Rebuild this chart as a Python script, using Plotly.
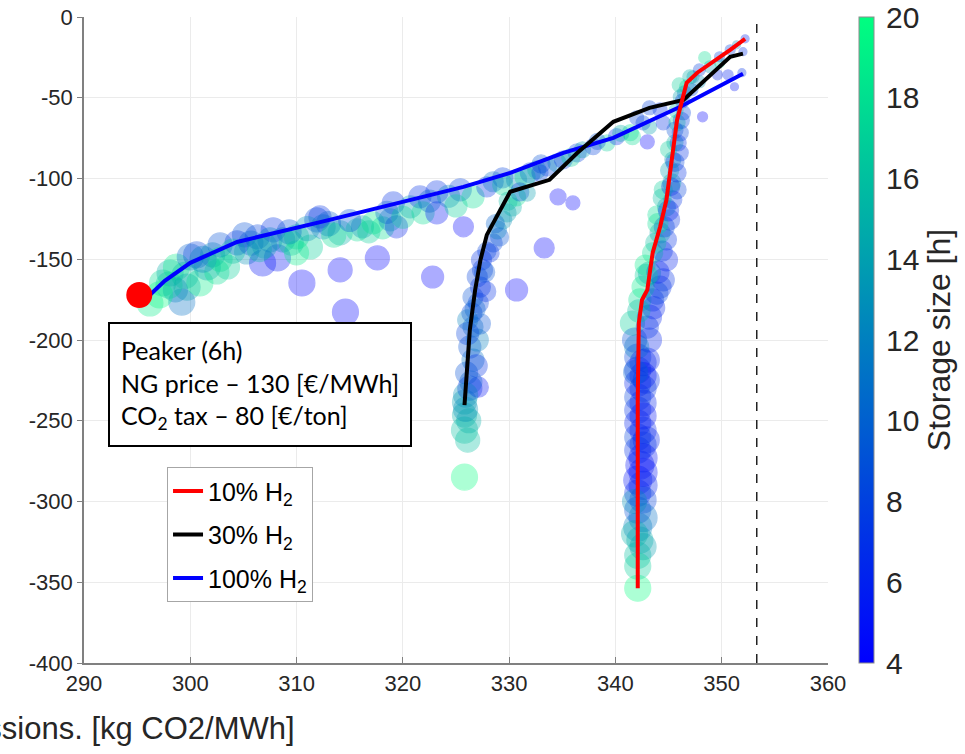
import plotly.graph_objects as go

# ---------------- data ----------------
# bubbles: 100% H2 family (band + outliers)
A_x = [296.2,297.4,298.1,298.7,299.2,299.7,300.0,300.6,300.9,301.6,
       302.1,302.5,303.5,304.4,305.3,306.3,306.8,307.8,308.2,308.7,
       310.0,310.5,311.3,311.9,312.5,307.0,305.1,302.8,298.6,297.1,
       310.0,312.2,
       314.1,315.7,316.2,317.2,318.1,319.1,319.4,318.8,320.7,321.6,
       321.9,323.2,323.2,325.4,326.6,327.9,329.4,329.4,330.7,332.0,
       332.6,333.6,334.5,335.1,336.4,336.9,337.9,339.2,340.1,341.4,
       342.6,343.2,344.2,342.0,341.6,344.5,343.2,
       314.6,314.1,317.6,322.8,325.7,330.7,333.3,334.6,336.0,343.0,348.2]
A_y = [-177.1,-164.7,-158.5,-154.8,-176.5,-167.2,-148.6,-147.3,-164.7,-154.8,
       -147.3,-157.9,-154.8,-139.9,-145.5,-136.2,-152.3,-131.8,-149.2,-138.0,
       -136.2,-164.7,-142.4,-125.6,-129.9,-141.8,-134.9,-141.1,-169.0,-172.1,
       -146.1,-123.8,
       -133.7,-131.8,-129.9,-127.5,-130.6,-115.1,-129.9,-125.6,-117.6,-111.4,
       -121.3,-108.3,-121.3,-107.0,-111.4,-105.2,-99.6,-103.9,-100.8,-96.5,
       -94.6,-92.8,-90.3,-88.4,-84.1,-82.2,-80.3,-77.9,-74.1,-71.6,
       -65.5,-68.0,-57.5,-62.4,-74.1,-65.5,-56.2,
       -182.7,-156.6,-149.2,-161.0,-129.9,-169.0,-143.0,-111.4,-115.1,-77.3,-61.8]
A_storage = [19,18,15,19,11,14,10,8,19,14, 13,18,17,7,13,8,5,7,5,12,
             18,4,17,8,12,14,9,9,12,20, 19,7,
             15,18,13,19,18,7,6,12,14,7, 18,7,5,8,18,7,8,18,13,8,
             14,8,13,7,8,14,8,17,7,18, 8,14,7,8,18,7,8,
             4,4,4,4,4,4,4,4,4,4,4]
A_cap = [26,26,26,26,26,26,26,26,26,26, 24,24,24,24,24,24,26,24,26,24,
         24,26,24,24,24,24,24,24,24,26, 24,22,
         24,22,22,22,22,22,22,22,22,22, 22,22,22,22,22,20,20,20,20,20,
         18,18,18,18,18,16,16,16,16,16, 14,14,14,14,16,14,14,
         26,24,24,22,20,22,20,16,14,14,10]

# more 100% H2 band bubbles
G_x = [298.0,299.5,301.2,302.8,304.0,305.7,306.5,307.5,309.3,309.5,
       311.0,313.0,313.5,315.0,316.8,318.5,320.0,322.5,324.3,325.0,
       328.5,331.5,333.0,335.8,338.3,340.5]
G_y = [-166,-160,-150,-150,-145,-140,-144,-138,-133,-140,
       -131,-128,-135,-126,-133,-121,-124,-114,-111,-117,
       -102,-99,-91,-87,-77,-72]
G_storage = [17,16,12,18,16,10,16,12,9,17,
             13,10,18,9,17,10,17,10,12,17,
             11,17,9,17,9,15]
G_cap = [26,26,26,24,24,24,24,24,24,24,
         24,24,24,22,22,22,22,22,22,22,
         20,20,18,18,16,16]

# bubbles: 30% H2 family
B_x = [325.8,325.8,325.8,325.8,326.3,327.1,326.0,326.6,326.3,327.0,
       326.6,326.5,327.1,326.6,327.3,327.0,327.5,327.4,328.2,328.5,
       329.1,328.9,329.4,329.8,330.3,330.7,331.0,331.7,332.9,326.1,
       325.9,326.1,
       326.1,326.9,326.4,327.3,327.8,327.9,328.7,329.9,326.2,325.9,326.8,327.7]
B_y = [-284.9,-255.8,-246.5,-238.4,-229.8,-229.2,-220.5,-212.4,-204.3,-200.0,
       -191.9,-183.3,-177.1,-173.4,-167.2,-160.9,-156.6,-150.4,-146.1,-139.9,
       -136.2,-131.8,-125.6,-121.3,-117.6,-111.4,-108.3,-109.0,-96.5,-187.6,
       -234.1,-262.0,
       -196,-216,-226,-190,-170,-145,-128,-114,-250,-243,-181,-158]
B_storage = [20,16,15,14,7,5,9,11,9,12, 11,8,8,9,7,8,8,7,7,8,
             9,12,13,14,15,18,8,14,8,12, 13,16,
             8,7,10,9,7,8,10,16,15,13,10,9]
B_cap = [26,26,24,24,24,20,22,22,22,22, 20,20,20,20,20,20,20,20,18,18,
         18,18,18,18,18,18,18,16,16,20, 24,24,
         22,22,22,20,20,18,18,18,24,24,20,20]

# bubbles: 10% H2 family
C_x = [342.1,342.1,342.3,342.1,342.1,342.1,342.1,342.3,342.1,342.1,
       342.1,342.1,342.1,342.1,342.1,342.1,343.0,343.2,342.0,341.6,
       343.2,343.5,342.3,344.2,342.6,344.5,343.2,344.8,343.5,344.8,
       344.2,345.1,344.8,345.4,345.8,345.3,345.8,345.4,346.1,345.6,
       346.1,345.8,346.4,346.1,346.7,347.0,342.9,342.9,342.8,343.9,
       344.5]
C_y = [-353.7,-333.3,-323.9,-315.9,-305.4,-294.8,-286.8,-277.5,-268.2,-260.1,
       -251.4,-243.4,-235.3,-226.7,-218.6,-210.6,-212.4,-200.0,-204.3,-189.5,
       -185.8,-175.2,-175.2,-167.2,-167.2,-162.8,-158.5,-150.4,-146.1,-138.0,
       -133.7,-125.6,-117.6,-113.2,-107.0,-102.7,-96.5,-88.4,-84.1,-77.9,
       -71.7,-65.5,-59.3,-49.4,-43.2,-37.0,-224.8,-261.9,-153.6,-122.5,
       -107.0]
C_storage = [20,16,15,12,9,7,5,5,7,8, 6,7,8,6,7,8,6,6,12,17,
             6,7,18,7,19,7,14,6,18,7, 14,7,13,7,8,15,7,13,7,15,
             8,17,8,14,18,15,7,6,19,18, 17]
C_cap = [26,26,26,28,26,26,28,28,26,26, 26,26,26,26,26,26,24,24,24,24,
         24,22,22,22,22,22,22,22,20,20, 20,20,18,18,18,18,18,16,16,16,
         16,16,14,14,14,14,26,26,20,18, 18]

# more 10% H2 band bubbles
E_x = [342.6,342.6,342.6,342.6,342.6,342.6,342.6,342.6,342.6,342.6,
       342.6,342.6,342.6,342.1,341.8,341.9,341.8,341.8,
       343.0,343.6,342.2,343.9,344.0,342.9,344.4,343.8,344.6,344.0,
       345.0,344.4,345.2,345.1,345.6,345.0,345.9,345.6,346.2,345.7,
       346.3,346.5,346.0,347.2]
E_y = [-214,-222,-230,-239,-247,-256,-265,-273,-282,-290,
       -299,-310,-328,-340,-200,-220,-300,-320,
       -192,-180,-182,-171,-158,-160,-145,-140,-130,-128,
       -120,-112,-105,-95,-90,-82,-78,-70,-64,-58,
       -52,-47,-42,-45]
E_storage = [6,5,7,6,5,6,7,5,5,6,
             8,11,14,17,9,10,13,15,
             7,6,16,8,6,17,7,16,8,18,
             6,16,7,14,8,17,7,9,8,16,
             8,12,17,8]
E_cap = [26,26,26,26,26,26,26,28,28,28,
         26,28,26,26,24,24,24,26,
         22,22,22,22,22,22,20,20,20,20,
         20,18,18,18,18,16,16,16,16,14,
         14,14,14,12]

# bubbles: top-right cluster
D_x = [347.3,347.9,348.9,349.8,349.6,350.6,351.2,349.8,350.8,351.4,352.2,352.0,351.9,348.4,347.9]
D_y = [-37.0,-32.7,-30.8,-28.3,-35.8,-35.8,-43.2,-24.6,-20.3,-17.2,-13.5,-21.5,-34.5,-25.2,-40.1]
D_storage = [14,8,14,17,6,6,5,8,8,13,6,7,7,18,13]
D_cap = [12,12,12,10,10,10,8,10,10,8,8,8,8,12,12]

# trend lines
red_x = [342.1,342.1,342.2,342.5,343.0,343.5,344.2,344.8,345.8,346.1,346.7,347.7,349.5,350.8,352.2]
red_y = [-353.7,-237.2,-189.5,-175.2,-169.0,-146.1,-130.0,-113.2,-63.7,-55.6,-40.7,-34.5,-26.5,-20.3,-13.5]
black_x = [325.8,326.3,326.8,327.3,327.9,330.1,333.8,336.4,339.8,343.2,346.4,350.8,352.0]
black_y = [-240.3,-193.8,-169.0,-150.4,-134.9,-108.2,-100.8,-84.2,-64.9,-56.3,-51.3,-24.6,-22.7]
blue_x = [296.0,297.6,300.0,304.4,313.1,319.4,325.7,330.1,335.1,339.8,344.2,346.1,352.0]
blue_y = [-173.4,-163.4,-152.2,-139.3,-125.6,-115.1,-105.2,-96.5,-84.1,-74.8,-61.8,-55.6,-35.1]

peaker_x = [295.2]
peaker_y = [-172.1]
reference_x = 353.3

x_ticks = [290, 300, 310, 320, 330, 340, 350, 360]
y_ticks = [0, -50, -100, -150, -200, -250, -300, -350, -400]
y_tick_labels = ["0", "-50", "-100", "-150", "-200", "-250", "-300", "-350", "-400"]
cbar_ticks = [4, 6, 8, 10, 12, 14, 16, 18, 20]

# ---------------- figure ----------------
winter = [[0, "rgb(0,0,255)"], [1, "rgb(0,255,128)"]]
all_x = A_x + G_x + B_x + C_x + E_x + D_x
all_y = A_y + G_y + B_y + C_y + E_y + D_y
all_s = A_storage + G_storage + B_storage + C_storage + E_storage + D_storage
all_cap = A_cap + G_cap + B_cap + C_cap + E_cap + D_cap

AX = "Liberation Sans, Arial, sans-serif"
TXT = "#262626"

fig = go.Figure()
fig.add_trace(go.Scatter(
    x=all_x, y=all_y, mode="markers", showlegend=False, hoverinfo="skip",
    marker=dict(
        size=all_cap, sizemode="diameter", opacity=0.32,
        color=all_s, colorscale=winter, cmin=4, cmax=20,
        line=dict(color=all_s, colorscale=winter, cmin=4, cmax=20, width=1.2),
        colorbar=dict(
            thickness=15, len=1, lenmode="fraction", y=0.5, yanchor="middle",
            x=1.0417, xanchor="left", xpad=0, ypad=0,
            outlinewidth=1, outlinecolor="#8c8c8c",
            tickvals=cbar_ticks, ticks="outside", ticklen=6,
            tickcolor="rgba(0,0,0,0)",
            tickfont=dict(family=AX, size=30, color=TXT),
            title=dict(text="Storage size [h]", side="right",
                       font=dict(family=AX, size=32, color=TXT)),
        ),
    ),
))

fig.add_trace(go.Scatter(x=blue_x, y=blue_y, mode="lines", name="100% H<sub>2</sub>",
                         line=dict(color="#0000ff", width=4), legendrank=3, legendgroup="c"))
fig.add_trace(go.Scatter(x=black_x, y=black_y, mode="lines", name="30% H<sub>2</sub>",
                         line=dict(color="#000000", width=4), legendrank=2, legendgroup="b"))
fig.add_trace(go.Scatter(x=red_x, y=red_y, mode="lines", name="10% H<sub>2</sub>",
                         line=dict(color="#ff0000", width=4), legendrank=1, legendgroup="a"))
fig.add_trace(go.Scatter(x=peaker_x, y=peaker_y, mode="markers", showlegend=False,
                         marker=dict(color="#ff0000", size=26)))

fig.add_shape(type="line", x0=reference_x, x1=reference_x, y0=0, y1=1,
              xref="x", yref="paper", line=dict(color="#000", width=1.3, dash="dash"))

fig.add_annotation(
    x=0.0323, y=0.528, xref="paper", yref="paper", xanchor="left", yanchor="top",
    align="left", showarrow=False,
    text="Peaker (6h)<br>NG price – 130 [€/MWh]<br>CO<sub>2</sub> tax – 80 [€/ton]",
    font=dict(family="Lato, sans-serif", size=25, color="#000"),
    bgcolor="white", bordercolor="#000", borderwidth=2, borderpad=11,
)

fig.add_annotation(
    x=0.286, y=-0.101, xref="paper", yref="paper", xanchor="right", yanchor="middle",
    showarrow=False, text="CO2 emissions. [kg CO2/MWh]",
    font=dict(family=AX, size=31, color=TXT),
)

fig.update_layout(
    width=965, height=754,
    margin=dict(l=84, r=137, t=17, b=91, autoexpand=False),
    paper_bgcolor="white", plot_bgcolor="white",
    showlegend=True,
    legend=dict(x=0.1116, y=0.303, xanchor="left", yanchor="top",
                bgcolor="white", bordercolor="#a6a6a6", borderwidth=1,
                font=dict(family=AX, size=25, color="#000"),
                tracegroupgap=8, traceorder="grouped"),
    xaxis=dict(range=[290, 360], tickvals=x_ticks, showgrid=True, gridcolor="#ebebeb",
               zeroline=False, showline=True, linecolor="#808080", linewidth=1.5,
               ticks="inside", ticklen=6, tickcolor="#808080",
               tickfont=dict(family=AX, size=22, color=TXT)),
    yaxis=dict(range=[-400, 0], tickvals=y_ticks, ticktext=y_tick_labels,
               showgrid=True, gridcolor="#ebebeb",
               zeroline=False, showline=True, linecolor="#808080", linewidth=1.5,
               ticks="outside", ticklen=5, tickcolor="#808080",
               tickfont=dict(family=AX, size=22, color=TXT)),
)

fig.write_html("out.html")
